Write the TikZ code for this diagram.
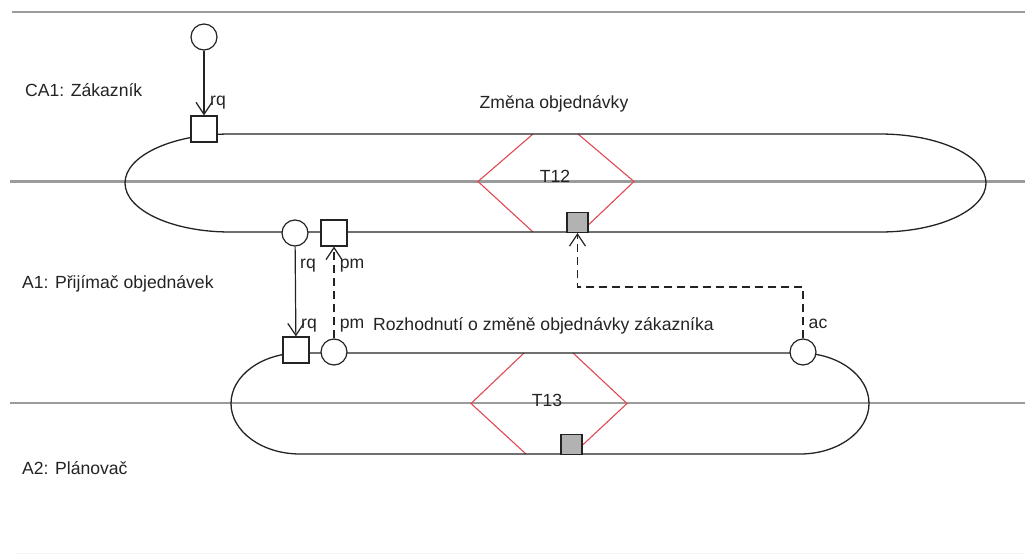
\documentclass[tikz,border=0pt]{standalone}
\usepackage{fontspec}
\setmainfont{Liberation Sans}
\usetikzlibrary{arrows.meta}
\definecolor{lanegray}{RGB}{155,155,155}
\definecolor{txnred}{RGB}{226,72,84}
\definecolor{ink}{RGB}{35,35,35}
\begin{document}
\begin{tikzpicture}[x=1pt,y=1pt,
  lane/.style={draw=lanegray, line width=2.2pt},
  edge/.style={draw=ink, line width=1.3pt},
  txn/.style={draw=txnred, line width=1.1pt, line join=miter},
  cnode/.style={circle, draw=ink, fill=white, minimum size=26pt, inner sep=0pt, line width=1.2pt},
  snode/.style={rectangle, draw=ink, fill=white, minimum size=26pt, inner sep=0pt, line width=1.2pt},
  gnode/.style={rectangle, draw=ink, fill=black!30, minimum width=21pt, minimum height=20pt, inner sep=0pt, line width=1.1pt},
  lbl/.style={font=\fontsize{17.6}{20}\selectfont, text=ink, inner sep=0pt},
  arr/.style={draw=ink, line width=1.2pt, -{Straight Barb[length=12pt,width=16pt,line width=1.2pt]}},
  darr/.style={arr, dash pattern=on 8pt off 5pt},
]
\useasboundingbox (0,0) rectangle (1025,-554);

% swimlane separators
\draw[lane] (12,-12) -- (1025,-12);
\draw[lane] (10,-181.5) -- (1025,-181.5);
\draw[lane] (10,-403) -- (1025,-403);
\draw[draw=black!4, line width=1pt] (15,-553) -- (1025,-553);

% transaction diamonds
\draw[txn] (533,-134) -- (478,-181.5) -- (533,-232);
\draw[txn] (578,-134) -- (634,-181.5) -- (581,-232);
\draw[txn] (524,-353) -- (471,-403.5) -- (526,-454);
\draw[txn] (573,-353) -- (627,-403.5) -- (573,-454);

% transaction outlines
\draw[edge] (230,-134) -- (880,-134)
  arc[start angle=90, end angle=-90, x radius=106pt, y radius=49pt]
  -- (230,-232)
  arc[start angle=270, end angle=90, x radius=105pt, y radius=49pt] -- cycle;
\draw[edge] (300,-353) -- (800,-353)
  arc[start angle=90, end angle=-90, x radius=69pt, y radius=50.5pt]
  -- (300,-454)
  arc[start angle=270, end angle=90, x radius=69pt, y radius=50.5pt] -- cycle;

% actor labels and transaction names
\node[lbl, anchor=west] (ca1) at (25,-90) {CA1: Zákazník};
\node[lbl, anchor=west] (a1) at (22,-284) {A1: Přijímač objednávek};
\node[lbl, anchor=west] (a2) at (22,-468) {A2: Plánovač};
\node[lbl] (t12name) at (554,-104) {Změna objednávky};
\node[lbl, anchor=west] (t13name) at (373,-326) {Rozhodnutí o změně objednávky zákazníka};
\node[lbl] (t12) at (555,-176) {T12};
\node[lbl] (t13) at (547,-400) {T13};

% process steps
\node[cnode] (c0) at (204,-37) {};
\node[snode] (s0) at (204,-129) {};
\node[cnode] (c1) at (295,-233) {};
\node[snode] (s1) at (334,-233) {};
\node[snode] (s2) at (296,-350) {};
\node[cnode] (c2) at (334,-352) {};
\node[cnode] (ac) at (803,-352) {};
\node[gnode] (g12) at (577.5,-222.5) {};
\node[gnode] (g13) at (571.5,-444.5) {};

% links
\draw[arr] (c0) -- (s0);
\draw[arr] (c1) -- (s2);
\draw[darr] (c2) -- (s1);
\coordinate (turn) at (803,-287);
\draw[darr] (ac.north) -- (turn) -| (g12.south);

% link labels
\node[lbl] (rq0) at (218,-103) {rq};
\node[lbl] (rq1) at (308,-266) {rq};
\node[lbl] (rq2) at (309,-326) {rq};
\node[lbl] (pm1) at (352,-266) {pm};
\node[lbl] (pm2) at (352,-326) {pm};
\node[lbl] (aclbl) at (818,-324) {ac};
\end{tikzpicture}
\end{document}
